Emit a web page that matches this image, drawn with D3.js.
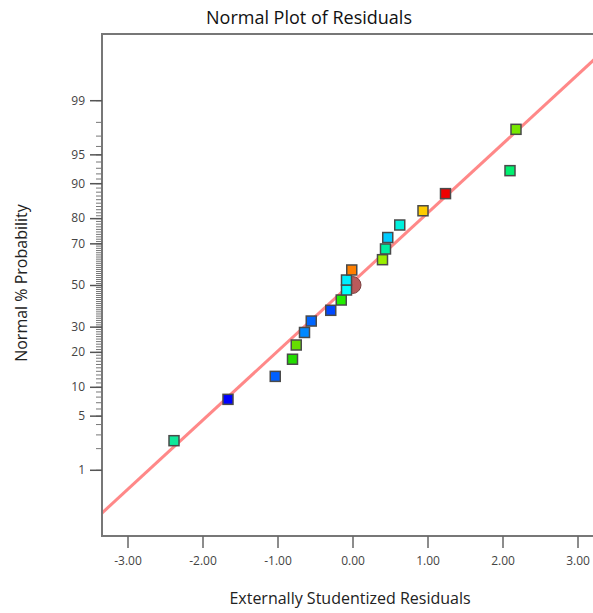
<!DOCTYPE html>
<html>
<head>
<meta charset="utf-8">
<script src="https://cdn.jsdelivr.net/npm/d3@7/dist/d3.min.js"></script>
<style>
  html, body { margin: 0; padding: 0; background: #fff; overflow: hidden; }
  svg { display: block; }
  text { font-family: "Open Sans", "Noto Sans", sans-serif; }
</style>
</head>
<body>
<svg id="chart" width="593" height="613"></svg>
<script>
// Externally studentized residuals (x) and their normal % probability (y)
const residuals = [-2.38, -1.66, -1.03, -0.80, -0.75, -0.64, -0.55, -0.29, -0.15, -0.08,
                   -0.08, -0.01, 0.40, 0.44, 0.47, 0.63, 0.94, 1.24, 2.10, 2.18];
const probability = [2.5, 7.5, 12.5, 17.5, 22.5, 27.5, 32.5, 37.5, 42.5, 47.5,
                     52.5, 57.5, 62.5, 67.5, 72.5, 77.5, 82.5, 87.5, 92.5, 97.5];
const pointColors = ["#10e89a", "#0000ff", "#0060ff", "#22dd00", "#66dd00", "#0088ff", "#0066ff", "#0048ff", "#22ee00", "#00ffff",
                     "#00eeff", "#ff7f00", "#99ee00", "#00eea0", "#00ccff", "#00f0dd", "#ffcc00", "#ee0000", "#00f070", "#77e800"];

// Reference line: z = slope * residual + intercept
const refSlope = 0.87;
const refIntercept = 0.035;

// Centre marker at (0, 50%)
const centerX = [0];
const centerP = [50];

const xTicks = [-3, -2, -1, 0, 1, 2, 3];
const yMajorTicks = [1, 5, 10, 20, 30, 50, 70, 80, 90, 95, 99];
const yMinorTicks = d3.range(1, 100);

// Inverse standard normal CDF (Acklam's approximation)
function probit(p) {
  const a = [-3.969683028665376e+01, 2.209460984245205e+02, -2.759285104469687e+02, 1.383577518672690e+02, -3.066479806614716e+01, 2.506628277459239e+00];
  const b = [-5.447609879822406e+01, 1.615858368580409e+02, -1.556989798598866e+02, 6.680131188771972e+01, -1.328068155288572e+01];
  const c = [-7.784894002430293e-03, -3.223964580411365e-01, -2.400758277161838e+00, -2.549732539343734e+00, 4.374664141464968e+00, 2.938163982698783e+00];
  const d = [7.784695709041462e-03, 3.224671290700398e-01, 2.445134137142996e+00, 3.754408661907416e+00];
  const pl = 0.02425, ph = 1 - pl;
  let q, r;
  if (p < pl) {
    q = Math.sqrt(-2 * Math.log(p));
    return (((((c[0]*q+c[1])*q+c[2])*q+c[3])*q+c[4])*q+c[5]) / ((((d[0]*q+d[1])*q+d[2])*q+d[3])*q+1);
  } else if (p <= ph) {
    q = p - 0.5; r = q * q;
    return (((((a[0]*r+a[1])*r+a[2])*r+a[3])*r+a[4])*r+a[5])*q / (((((b[0]*r+b[1])*r+b[2])*r+b[3])*r+b[4])*r+1);
  } else {
    q = Math.sqrt(-2 * Math.log(1 - p));
    return -(((((c[0]*q+c[1])*q+c[2])*q+c[3])*q+c[4])*q+c[5]) / ((((d[0]*q+d[1])*q+d[2])*q+d[3])*q+1);
  }
}

const svg = d3.select("#chart");
const plot = { left: 102, top: 34, right: 603, bottom: 536 };

const x = d3.scaleLinear().domain([-3.34, 3.34]).range([plot.left, plot.right]);
const z = d3.scaleLinear().domain([-3.16, 3.16]).range([plot.bottom, plot.top]);
const y = pct => z(probit(pct / 100));

// Title
svg.append("text")
  .attr("x", 309).attr("y", 24)
  .attr("text-anchor", "middle")
  .attr("font-size", 18).attr("fill", "#111")
  .text("Normal Plot of Residuals");

// Clip region for data
svg.append("clipPath").attr("id", "plotClip")
  .append("rect")
  .attr("x", plot.left).attr("y", plot.top)
  .attr("width", plot.right - plot.left).attr("height", plot.bottom - plot.top);

// Reference line
const lineX = x.domain();
svg.append("line")
  .attr("clip-path", "url(#plotClip)")
  .attr("x1", x(lineX[0])).attr("y1", z(refSlope * lineX[0] + refIntercept))
  .attr("x2", x(lineX[1])).attr("y2", z(refSlope * lineX[1] + refIntercept))
  .attr("stroke", "#ff7b7b").attr("stroke-width", 3).attr("stroke-opacity", 0.9);

// Frame: left, top and bottom edges (the right edge lies past the page)
svg.append("path")
  .attr("d", `M${plot.right + 20},${plot.top}H${plot.left}V${plot.bottom}H${plot.right + 20}`)
  .attr("fill", "none").attr("stroke", "#777").attr("stroke-width", 2);

// X axis
const fmtX = d => d3.format(".2f")(d).replace("\u2212", "-");
const xAxis = svg.append("g")
  .attr("transform", `translate(0,${plot.bottom})`)
  .call(d3.axisBottom(x).tickValues(xTicks).tickSize(12).tickPadding(8).tickFormat(fmtX));
xAxis.select(".domain").remove();
xAxis.selectAll(".tick line").attr("stroke", "#666").attr("stroke-width", 1.5);
xAxis.selectAll(".tick text").attr("font-size", 12).attr("fill", "#444")
  .attr("font-family", "'Open Sans', 'Noto Sans', sans-serif");

// Y axis: minor ticks at every percent, labelled major ticks
const yMinor = svg.append("g")
  .attr("transform", `translate(${plot.left},0)`)
  .call(d3.axisLeft(z).tickValues(yMinorTicks.map(p => probit(p / 100))).tickSize(6).tickFormat(""));
yMinor.select(".domain").remove();
yMinor.selectAll(".tick line").attr("stroke", "#777").attr("stroke-width", 1);

const yMajor = svg.append("g")
  .attr("transform", `translate(${plot.left},0)`)
  .call(d3.axisLeft(z).tickValues(yMajorTicks.map(p => probit(p / 100))).tickSize(12).tickPadding(5)
    .tickFormat((d, i) => yMajorTicks[i]));
yMajor.select(".domain").remove();
yMajor.selectAll(".tick line").attr("stroke", "#555").attr("stroke-width", 1.5);
yMajor.selectAll(".tick text").attr("font-size", 12).attr("fill", "#444")
  .attr("font-family", "'Open Sans', 'Noto Sans', sans-serif");

// Axis titles
svg.append("text")
  .attr("x", 350).attr("y", 604)
  .attr("text-anchor", "middle")
  .attr("font-size", 16).attr("fill", "#222")
  .text("Externally Studentized Residuals");

svg.append("text")
  .attr("transform", "translate(27,283) rotate(-90)")
  .attr("text-anchor", "middle")
  .attr("font-size", 16).attr("fill", "#222")
  .text("Normal % Probability");

// Centre marker
svg.selectAll(".center")
  .data(centerX)
  .join("circle")
  .attr("class", "center")
  .attr("cx", d => x(d)).attr("cy", (d, i) => y(centerP[i]))
  .attr("r", 8.5)
  .attr("fill", "#b95a5a").attr("stroke", "#7a4040").attr("stroke-width", 1);

// Residual points
const sq = 10;
svg.selectAll(".pt")
  .data(residuals)
  .join("rect")
  .attr("class", "pt")
  .attr("x", d => x(d) - sq / 2)
  .attr("y", (d, i) => y(probability[i]) - sq / 2)
  .attr("width", sq).attr("height", sq)
  .attr("fill", (d, i) => pointColors[i])
  .attr("stroke", "#4a4a4a").attr("stroke-width", 1.5);
</script>
</body>
</html>
